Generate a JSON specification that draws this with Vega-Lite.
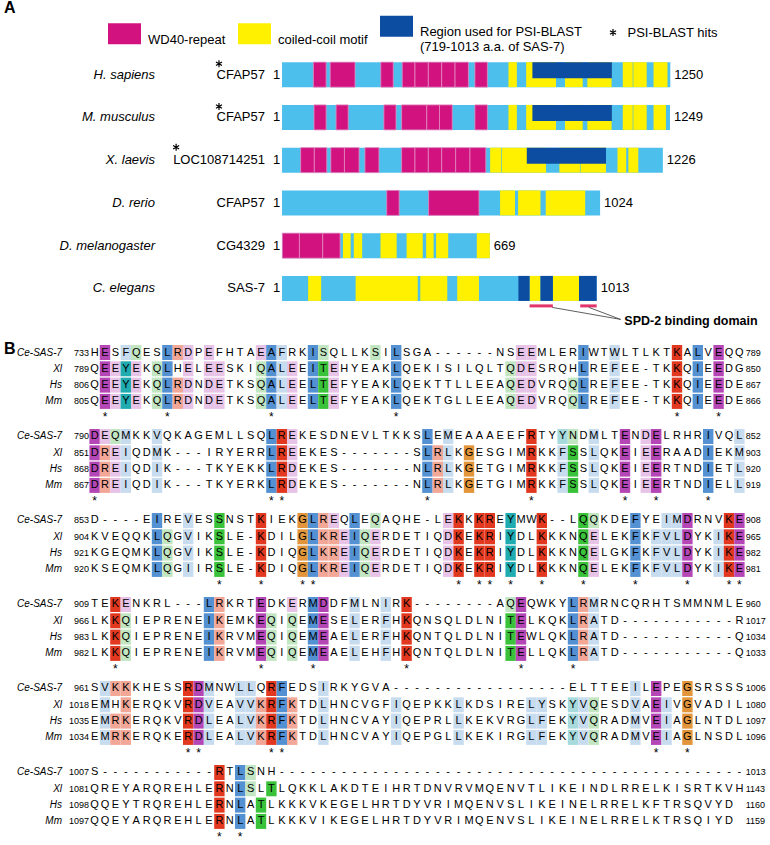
{
"$schema": "https://vega.github.io/schema/vega-lite/v6.json",
"padding": 0,
"background": "white",
"spacing": 7.5,
"bounds": "flush",
"resolve": {"scale": {"color": "independent", "shape": "independent"}, "legend": {"color": "independent", "shape": "independent"}},
"config": {"view": {"stroke": null}, "font": "Liberation Sans"},
"datasets": {
"prot": [
{"sp":"H. sapiens","gene":"CFAP57","len":1250,"star":"a","hit":"PSI-BLAST hits"},
{"sp":"M. musculus","gene":"CFAP57","len":1249,"star":"a","hit":"PSI-BLAST hits"},
{"sp":"X. laevis","gene":"LOC108714251","len":1226,"star":"b","hit":"PSI-BLAST hits"},
{"sp":"D. rerio","gene":"CFAP57","len":1024,"star":""},
{"sp":"D. melanogaster","gene":"CG4329","len":669,"star":""},
{"sp":"C. elegans","gene":"SAS-7","len":1013,"star":""}
],
"dom": [
{"sp":"H. sapiens","t":"WD40","s":101,"e":142},{"sp":"H. sapiens","t":"WD40","s":155,"e":235},{"sp":"H. sapiens","t":"WD40","s":318,"e":358},{"sp":"H. sapiens","t":"WD40","s":387,"e":428},{"sp":"H. sapiens","t":"WD40","s":428,"e":471},{"sp":"H. sapiens","t":"WD40","s":471,"e":514},{"sp":"H. sapiens","t":"WD40","s":514,"e":557},{"sp":"H. sapiens","t":"WD40","s":557,"e":600},{"sp":"H. sapiens","t":"WD40","s":621,"e":661},
{"sp":"H. sapiens","t":"coil","s":729,"e":756},{"sp":"H. sapiens","t":"coil","s":786,"e":882},{"sp":"H. sapiens","t":"coil","s":911,"e":968},{"sp":"H. sapiens","t":"coil","s":983,"e":1061},{"sp":"H. sapiens","t":"coil","s":1097,"e":1129},{"sp":"H. sapiens","t":"coil","s":1131,"e":1174},{"sp":"H. sapiens","t":"coil","s":1196,"e":1241},
{"sp":"H. sapiens","t":"psi","s":806,"e":1062,"part":"top"},
{"sp":"M. musculus","t":"WD40","s":103,"e":142},{"sp":"M. musculus","t":"WD40","s":174,"e":213},{"sp":"M. musculus","t":"WD40","s":328,"e":367},{"sp":"M. musculus","t":"WD40","s":385,"e":466},{"sp":"M. musculus","t":"WD40","s":466,"e":507},{"sp":"M. musculus","t":"WD40","s":507,"e":548},{"sp":"M. musculus","t":"WD40","s":621,"e":661},
{"sp":"M. musculus","t":"coil","s":729,"e":756},{"sp":"M. musculus","t":"coil","s":786,"e":882},{"sp":"M. musculus","t":"coil","s":911,"e":968},{"sp":"M. musculus","t":"coil","s":983,"e":1061},{"sp":"M. musculus","t":"coil","s":1097,"e":1129},{"sp":"M. musculus","t":"coil","s":1131,"e":1174},{"sp":"M. musculus","t":"coil","s":1196,"e":1236},
{"sp":"M. musculus","t":"psi","s":806,"e":1062,"part":"top"},
{"sp":"X. laevis","t":"WD40","s":60,"e":104},{"sp":"X. laevis","t":"WD40","s":104,"e":144},{"sp":"X. laevis","t":"WD40","s":157,"e":201},{"sp":"X. laevis","t":"WD40","s":201,"e":248},{"sp":"X. laevis","t":"WD40","s":267,"e":312},{"sp":"X. laevis","t":"WD40","s":385,"e":428},{"sp":"X. laevis","t":"WD40","s":428,"e":471},{"sp":"X. laevis","t":"WD40","s":471,"e":514},{"sp":"X. laevis","t":"WD40","s":514,"e":559},{"sp":"X. laevis","t":"WD40","s":559,"e":605},{"sp":"X. laevis","t":"WD40","s":605,"e":656},
{"sp":"X. laevis","t":"coil","s":670,"e":706},{"sp":"X. laevis","t":"coil","s":708,"e":850},{"sp":"X. laevis","t":"coil","s":893,"e":959},{"sp":"X. laevis","t":"coil","s":961,"e":1043},{"sp":"X. laevis","t":"coil","s":1080,"e":1108},{"sp":"X. laevis","t":"coil","s":1115,"e":1147},
{"sp":"X. laevis","t":"psi","s":788,"e":1043,"part":"top"},
{"sp":"D. rerio","t":"WD40","s":337,"e":377},{"sp":"D. rerio","t":"WD40","s":472,"e":634},
{"sp":"D. rerio","t":"coil","s":702,"e":750},{"sp":"D. rerio","t":"coil","s":760,"e":832},{"sp":"D. rerio","t":"coil","s":849,"e":976},
{"sp":"D. melanogaster","t":"WD40","s":1,"e":56},{"sp":"D. melanogaster","t":"WD40","s":56,"e":131},{"sp":"D. melanogaster","t":"WD40","s":131,"e":187},
{"sp":"D. melanogaster","t":"coil","s":196,"e":221},{"sp":"D. melanogaster","t":"coil","s":231,"e":258},{"sp":"D. melanogaster","t":"coil","s":317,"e":369},{"sp":"D. melanogaster","t":"coil","s":401,"e":453},{"sp":"D. melanogaster","t":"coil","s":464,"e":488},{"sp":"D. melanogaster","t":"coil","s":496,"e":535},{"sp":"D. melanogaster","t":"coil","s":627,"e":669},
{"sp":"C. elegans","t":"coil","s":84,"e":126},{"sp":"C. elegans","t":"coil","s":237,"e":437},{"sp":"C. elegans","t":"coil","s":445,"e":532},{"sp":"C. elegans","t":"coil","s":564,"e":634},{"sp":"C. elegans","t":"coil","s":797,"e":832},{"sp":"C. elegans","t":"coil","s":872,"e":956},
{"sp":"C. elegans","t":"psi","s":761,"e":797},{"sp":"C. elegans","t":"psi","s":832,"e":872},{"sp":"C. elegans","t":"psi","s":956,"e":1013}
],
"spd": [{"sp":"C. elegans","s":797,"e":872},{"sp":"C. elegans","s":960,"e":1013}],
"conn": [{"sp":"C. elegans","x0":870,"x1":1090},{"sp":"C. elegans","x0":988,"x1":1090}],
"spdlab": [{"sp":"C. elegans","lab":"SPD-2 binding domain"}],
"aln": [
{"b":1,"n":"Ce-SAS-7","st":733,"en":789,
"c":[1,2,3,4,5,6,7,8,9,10,11,12,13,14,15,16,17,18,19,20,21,22,23,24,25,26,27,28,29,30,31,32,33,34,35,36,37,38,39,40,41,42,43,44,45,46,47,48,49,50,51,52,53,54,55,56,57,58,59,60,61,62,63],
"s":["H","E","S","F","Q","E","S","L","R","D","P","E","F","H","T","A","E","A","F","R","K","I","S","Q","L","L","K","S","I","L","S","G","A","-","-","-","-","-","-","N","S","E","E","M","L","E","R","I","W","T","W","L","T","L","K","T","K","A","L","V","E","Q","Q"],
"h":[".","M",".","b","g",".",".","B","r","m",".","m",".",".",".",".","m","B","b",".",".","B","g",".",".",".",".","g",".","B",".",".",".",".",".",".",".",".",".",".",".","m","m",".",".",".",".","B",".",".","b",".",".",".",".",".","R",".","B",".","M",".","."]},
{"b":1,"n":"Xl","st":789,"en":850,
"c":[1,2,3,4,5,6,7,8,9,10,11,12,13,14,15,16,17,18,19,20,21,22,23,24,25,26,27,28,29,30,31,32,33,34,35,36,37,38,39,40,41,42,43,44,45,46,47,48,49,50,51,52,53,54,55,56,57,58,59,60,61,62,63],
"s":["Q","E","E","Y","E","K","Q","L","H","E","L","E","E","S","K","I","Q","A","L","E","E","I","T","E","H","Y","E","A","K","L","Q","E","K","I","S","I","L","Q","L","T","Q","D","E","S","R","Q","H","L","R","E","F","E","E","-","T","K","K","Q","I","E","E","D","G"],
"h":[".","M","m","T","m",".","g","B",".","m",".","m","m",".",".",".","g","B","b","m",".","B","G","m",".",".",".",".",".","B",".",".",".",".",".",".",".",".",".",".","g","m","m",".",".",".",".","B",".",".","b",".",".",".",".",".","R",".","B",".","M",".","."]},
{"b":1,"n":"Hs","st":806,"en":867,
"c":[1,2,3,4,5,6,7,8,9,10,11,12,13,14,15,16,17,18,19,20,21,22,23,24,25,26,27,28,29,30,31,32,33,34,35,36,37,38,39,40,41,42,43,44,45,46,47,48,49,50,51,52,53,54,55,56,57,58,59,60,61,62,63],
"s":["Q","E","E","Y","E","K","Q","L","R","D","N","D","E","T","K","S","Q","A","L","E","E","L","T","E","F","Y","E","A","K","L","Q","E","K","T","T","L","L","E","E","A","Q","E","D","V","R","Q","Q","L","R","E","F","E","E","-","T","K","K","Q","I","E","E","D","E"],
"h":[".","M","m","T","m",".","g","B","r","m",".","m","m",".",".",".","g","B","b","m",".","B","G","m",".",".",".",".",".","B",".",".",".",".",".",".",".",".",".",".","g","m","m",".",".",".","g","B",".",".","b",".",".",".",".",".","R",".","B",".","M",".","."]},
{"b":1,"n":"Mm","st":805,"en":866,
"c":[1,2,3,4,5,6,7,8,9,10,11,12,13,14,15,16,17,18,19,20,21,22,23,24,25,26,27,28,29,30,31,32,33,34,35,36,37,38,39,40,41,42,43,44,45,46,47,48,49,50,51,52,53,54,55,56,57,58,59,60,61,62,63],
"s":["Q","E","E","Y","E","K","Q","L","R","D","N","D","E","T","K","S","Q","A","L","E","E","L","T","E","F","Y","E","A","K","L","Q","E","K","T","G","L","L","E","E","A","Q","E","D","V","R","Q","Q","L","R","E","F","E","E","-","T","K","K","Q","I","E","E","D","E"],
"h":[".","M","m","T","m",".","g","B","r","m",".","m","m",".",".",".","g","B","b","m",".","B","G","m",".",".",".",".",".","B",".",".",".",".",".",".",".",".",".",".","g","m","m",".",".",".","g","B",".",".","b",".",".",".",".",".","R",".","B",".","M",".","."]},
{"b":1,"n":"*","sc":[2,8,18,30,57,61]},
{"b":2,"n":"Ce-SAS-7","st":790,"en":852,
"c":[1,2,3,4,5,6,7,8,9,10,11,12,13,14,15,16,17,18,19,20,21,22,23,24,25,26,27,28,29,30,31,32,33,34,35,36,37,38,39,40,41,42,43,44,45,46,47,48,49,50,51,52,53,54,55,56,57,58,59,60,61,62,63],
"s":["D","E","Q","M","K","K","V","Q","K","A","G","E","M","L","L","S","Q","L","R","E","K","E","S","D","N","E","V","L","T","K","K","S","L","E","M","E","A","A","A","E","E","F","R","T","Y","Y","N","D","M","L","T","E","N","D","E","L","R","H","R","I","V","Q","L"],
"h":["M","m","g","b",".",".","b",".",".",".",".",".",".",".",".",".",".","B","R","m",".",".",".",".",".",".",".",".",".",".",".",".","B",".","b",".",".",".",".",".",".",".","R",".",".","t","g",".","b",".",".","M",".","m","M",".",".",".",".","B",".",".","b"]},
{"b":2,"n":"Xl","st":851,"en":903,
"c":[1,2,3,4,5,6,7,8,9,10,11,12,13,14,15,16,17,18,19,20,21,22,23,24,25,26,27,28,29,30,31,32,33,34,35,36,37,38,39,40,41,42,43,44,45,46,47,48,49,50,51,52,53,54,55,56,57,58,59,60,61,62,63],
"s":["D","R","E","I","Q","D","M","K","-","-","-","I","R","Y","E","R","R","L","R","E","E","K","E","S","-","-","-","-","-","-","-","S","L","R","L","K","G","E","S","G","I","M","R","K","K","F","S","S","L","Q","K","E","I","E","E","R","A","A","D","I","E","K","M"],
"h":["M","r","m","b",".",".","b",".",".",".",".",".",".",".",".",".",".","B","R","m",".",".",".",".",".",".",".",".",".",".",".",".","B","r","b",".","O",".",".",".",".",".","R",".",".","b","G",".","b",".",".","M",".","m","M",".",".",".",".","B",".",".","b"]},
{"b":2,"n":"Hs","st":868,"en":920,
"c":[1,2,3,4,5,6,7,8,9,10,11,12,13,14,15,16,17,18,19,20,21,22,23,24,25,26,27,28,29,30,31,32,33,34,35,36,37,38,39,40,41,42,43,44,45,46,47,48,49,50,51,52,53,54,55,56,57,58,59,60,61,62,63],
"s":["D","R","E","I","Q","D","I","K","-","-","-","T","K","Y","E","K","K","L","R","D","E","K","E","S","-","-","-","-","-","-","-","N","L","R","L","K","G","E","T","G","I","M","R","K","K","F","S","S","L","Q","K","E","I","E","E","R","T","N","D","I","E","T","L"],
"h":["M","r","m","b",".",".","b",".",".",".",".",".",".",".",".",".",".","B","R","m",".",".",".",".",".",".",".",".",".",".",".",".","B","r","b",".","O",".",".",".",".",".","R",".",".","b","G",".","b",".",".","M",".","m","M",".",".",".",".","B",".",".","b"]},
{"b":2,"n":"Mm","st":867,"en":919,
"c":[1,2,3,4,5,6,7,8,9,10,11,12,13,14,15,16,17,18,19,20,21,22,23,24,25,26,27,28,29,30,31,32,33,34,35,36,37,38,39,40,41,42,43,44,45,46,47,48,49,50,51,52,53,54,55,56,57,58,59,60,61,62,63],
"s":["D","R","E","I","Q","D","I","K","-","-","-","T","K","Y","E","R","K","L","R","D","E","K","E","S","-","-","-","-","-","-","-","N","L","R","L","K","G","E","T","G","I","M","R","K","K","F","S","S","L","Q","K","E","I","E","E","R","T","N","D","I","E","L","L"],
"h":["M","r","m","b",".",".","b",".",".",".",".",".",".",".",".",".",".","B","R","m",".",".",".",".",".",".",".",".",".",".",".",".","B","r","b",".","O",".",".",".",".",".","R",".",".","b","G",".","b",".",".","M",".","m","M",".",".",".",".","B",".",".","b"]},
{"b":2,"n":"*","sc":[1,18,19,33,43,52,55,60]},
{"b":3,"n":"Ce-SAS-7","st":853,"en":908,
"c":[1,2,3,4,5,6,7,8,9,10,11,12,13,14,15,16,17,18,19,20,21,22,23,24,25,26,27,28,29,30,31,32,33,34,35,36,37,38,39,40,41,42,43,44,45,46,47,48,49,50,51,52,53,54,55,56,57,58,59,60,61,62,63],
"s":["D","-","-","-","-","E","I","R","E","V","E","S","S","N","S","T","K","I","E","K","G","L","R","E","Q","L","E","Q","A","Q","H","E","-","L","E","K","K","K","R","E","Y","M","W","K","-","-","L","Q","Q","K","D","E","F","Y","E","I","M","D","R","N","V","K","E"],
"h":[".",".",".",".",".",".","B",".",".","b",".",".","G",".",".",".","R",".",".",".","O","B","r","m",".","B",".","g",".",".",".",".",".",".","m","R",".","R","R",".","T",".",".","R",".",".",".","G","g",".",".",".","B",".",".","b","b","M",".",".",".","R","M"]},
{"b":3,"n":"Xl","st":904,"en":965,
"c":[1,2,3,4,5,6,7,8,9,10,11,12,13,14,15,16,17,18,19,20,21,22,23,24,25,26,27,28,29,30,31,32,33,34,35,36,37,38,39,40,41,42,43,44,45,46,47,48,49,50,51,52,53,54,55,56,57,58,59,60,61,62,63],
"s":["K","V","E","Q","Q","K","L","Q","G","V","I","K","S","L","E","-","K","D","I","L","G","L","K","R","E","I","Q","E","R","D","E","T","I","Q","D","K","E","K","R","I","Y","D","L","K","K","K","N","Q","E","L","E","K","F","K","F","V","L","D","Y","K","I","K","E"],
"h":[".",".",".",".",".",".","B","g",".","b",".",".","G",".",".",".","R",".",".",".","O","B","r","r","m","B","g","m",".",".",".",".",".",".","m","R",".","R","R",".","T",".",".","R",".",".",".","G","m",".",".",".","B",".","b","b","b","M",".",".","b","R","M"]},
{"b":3,"n":"Hs","st":921,"en":982,
"c":[1,2,3,4,5,6,7,8,9,10,11,12,13,14,15,16,17,18,19,20,21,22,23,24,25,26,27,28,29,30,31,32,33,34,35,36,37,38,39,40,41,42,43,44,45,46,47,48,49,50,51,52,53,54,55,56,57,58,59,60,61,62,63],
"s":["K","G","E","Q","M","K","L","Q","G","V","I","K","S","L","E","-","K","D","I","Q","G","L","K","R","E","I","Q","E","R","D","E","T","I","Q","D","K","E","K","R","I","Y","D","L","K","K","K","N","Q","E","L","G","K","F","K","F","V","L","D","Y","K","I","K","E"],
"h":[".",".",".",".",".",".","B","g",".","b",".",".","G",".",".",".","R",".",".",".","O","B","r","r","m","B","g","m",".",".",".",".",".",".","m","R",".","R","R",".","T",".",".","R",".",".",".","G","m",".",".",".","B",".","b","b","b","M",".",".","b","R","M"]},
{"b":3,"n":"Mm","st":920,"en":981,
"c":[1,2,3,4,5,6,7,8,9,10,11,12,13,14,15,16,17,18,19,20,21,22,23,24,25,26,27,28,29,30,31,32,33,34,35,36,37,38,39,40,41,42,43,44,45,46,47,48,49,50,51,52,53,54,55,56,57,58,59,60,61,62,63],
"s":["K","S","E","Q","M","K","L","Q","G","I","I","R","S","L","E","-","K","D","I","Q","G","L","K","R","E","I","Q","E","R","D","E","T","I","Q","D","K","E","K","R","I","Y","D","L","K","K","K","N","Q","E","L","E","K","F","K","F","V","L","D","Y","K","I","K","E"],
"h":[".",".",".",".",".",".","B","g",".","b",".",".","G",".",".",".","R",".",".",".","O","B","r","r","m","B","g","m",".",".",".",".",".",".","m","R",".","R","R",".","T",".",".","R",".",".",".","G","m",".",".",".","B",".","b","b","b","M",".",".","b","R","M"]},
{"b":3,"n":"*","sc":[13,17,21,22,36,38,39,41,44,48,53,58,62,63]},
{"b":4,"n":"Ce-SAS-7","st":909,"en":960,
"c":[1,2,3,4,5,6,7,8,9,10,11,12,13,14,15,16,17,18,19,20,21,22,23,24,25,26,27,28,29,30,31,32,33,34,35,36,37,38,39,40,41,42,43,44,45,46,47,48,49,50,51,52,53,54,55,56,57,58,59,60,61,62,63],
"s":["T","E","K","E","N","K","R","L","-","-","-","L","R","K","R","T","E","D","K","E","R","M","D","D","F","M","L","N","I","R","K","-","-","-","-","-","-","-","-","A","Q","E","Q","W","K","Y","L","R","M","R","N","C","Q","R","H","T","S","M","M","N","M","L","E"],
"h":[".",".","R","m",".",".",".",".",".",".",".","B","r",".",".",".","M",".",".","m",".","B","M",".",".","b",".",".","b",".","R",".",".",".",".",".",".",".",".",".","g","M",".",".",".",".","B","r","b",".",".",".",".",".",".",".",".",".",".",".",".",".","."]},
{"b":4,"n":"Xl","st":966,"en":1017,
"c":[1,2,3,4,5,6,7,8,9,10,11,12,13,14,15,16,17,18,19,20,21,22,23,24,25,26,27,28,29,30,31,32,33,34,35,36,37,38,39,40,41,42,43,44,45,46,47,48,49,50,51,52,53,54,55,56,57,58,59,60,61,62,63],
"s":["L","K","K","Q","I","E","P","R","E","N","E","I","K","E","M","K","E","Q","I","Q","E","M","E","S","E","L","E","R","F","H","K","Q","N","S","Q","L","D","L","N","I","T","E","L","K","Q","K","L","R","A","T","D","-","-","-","-","-","-","-","-","-","-","-","R"],
"h":[".",".","R","g",".",".",".",".",".",".",".","B","r",".",".",".","M","g",".","g",".","B","M",".",".","b",".",".","b",".","R",".",".",".",".",".",".",".",".",".","G","M",".",".",".",".","B","r","b",".",".",".",".",".",".",".",".",".",".",".",".",".","."]},
{"b":4,"n":"Hs","st":983,"en":1034,
"c":[1,2,3,4,5,6,7,8,9,10,11,12,13,14,15,16,17,18,19,20,21,22,23,24,25,26,27,28,29,30,31,32,33,34,35,36,37,38,39,40,41,42,43,44,45,46,47,48,49,50,51,52,53,54,55,56,57,58,59,60,61,62,63],
"s":["L","K","K","Q","I","E","P","R","E","N","E","I","K","R","V","M","E","Q","I","Q","E","M","E","A","E","L","E","R","F","H","K","Q","N","T","Q","L","D","L","N","I","T","E","W","L","Q","K","L","R","A","T","D","-","-","-","-","-","-","-","-","-","-","-","Q"],
"h":[".",".","R","g",".",".",".",".",".",".",".","B","r",".",".",".","M","g",".","g",".","B","M",".",".","b",".",".","b",".","R",".",".",".",".",".",".",".",".",".","G","M",".",".",".",".","B","r","b",".",".",".",".",".",".",".",".",".",".",".",".",".","."]},
{"b":4,"n":"Mm","st":982,"en":1033,
"c":[1,2,3,4,5,6,7,8,9,10,11,12,13,14,15,16,17,18,19,20,21,22,23,24,25,26,27,28,29,30,31,32,33,34,35,36,37,38,39,40,41,42,43,44,45,46,47,48,49,50,51,52,53,54,55,56,57,58,59,60,61,62,63],
"s":["L","K","K","Q","I","E","P","R","E","N","E","I","K","R","V","M","E","Q","I","Q","E","M","E","A","E","L","E","H","F","H","K","Q","N","T","Q","L","D","L","N","I","T","E","L","L","Q","K","L","R","A","T","D","-","-","-","-","-","-","-","-","-","-","-","Q"],
"h":[".",".","R","g",".",".",".",".",".",".",".","B","r",".",".",".","M","g",".","g",".","B","M",".",".","b",".",".","b",".","R",".",".",".",".",".",".",".",".",".","G","M",".",".",".",".","B","r","b",".",".",".",".",".",".",".",".",".",".",".",".",".","."]},
{"b":4,"n":"*","sc":[3,17,22,31,42,47]},
{"b":5,"n":"Ce-SAS-7","st":961,"en":1006,
"c":[1,2,3,4,5,6,7,8,9,10,11,12,13,14,15,16,17,18,19,20,21,22,23,24,25,26,27,28,29,30,31,32,33,34,35,36,37,38,39,40,41,42,43,44,45,46,47,48,49,50,51,52,53,54,55,56,57,58,59,60,61,62,63],
"s":["S","V","K","K","K","H","E","S","S","R","D","M","N","W","L","L","Q","R","F","E","D","S","I","R","K","Y","G","V","A","-","-","-","-","-","-","-","-","-","-","-","-","-","-","-","-","-","E","L","T","T","E","E","I","L","E","P","E","G","S","R","S","S","S"],
"h":[".","b","r","r",".",".",".",".",".","R","M","b",".",".","b","b",".","R","B",".",".",".","b",".",".",".",".",".",".",".",".",".",".",".",".",".",".",".",".",".",".",".",".",".",".",".",".",".",".",".",".",".","b",".","M",".",".","O",".",".",".",".","."]},
{"b":5,"n":"Xl","st":1018,"en":1080,
"c":[1,2,3,4,5,6,7,8,9,10,11,12,13,14,15,16,17,18,19,20,21,22,23,24,25,26,27,28,29,30,31,32,33,34,35,36,37,38,39,40,41,42,43,44,45,46,47,48,49,50,51,52,53,54,55,56,57,58,59,60,61,62,63],
"s":["E","M","H","K","E","R","Q","K","V","R","D","V","E","A","V","V","K","R","F","K","T","D","L","H","N","C","V","G","F","I","Q","E","P","K","K","L","K","D","S","I","R","E","L","Y","S","K","Y","V","Q","E","S","D","V","A","E","I","V","G","V","A","D","I","L"],
"h":[".","b",".","r",".",".",".",".",".","R","M","b",".",".","b","b","r","R","B","r",".",".","b",".",".",".",".",".",".","b",".",".",".",".",".","b",".",".",".",".",".",".","b","b",".",".","t","b","g",".",".",".","b",".","M","b",".","O",".",".",".",".","."]},
{"b":5,"n":"Hs","st":1035,"en":1097,
"c":[1,2,3,4,5,6,7,8,9,10,11,12,13,14,15,16,17,18,19,20,21,22,23,24,25,26,27,28,29,30,31,32,33,34,35,36,37,38,39,40,41,42,43,44,45,46,47,48,49,50,51,52,53,54,55,56,57,58,59,60,61,62,63],
"s":["E","M","R","K","E","R","Q","K","V","R","D","L","E","A","L","V","K","R","F","K","T","D","L","H","N","C","V","A","Y","I","Q","E","P","R","L","L","K","E","K","V","R","G","L","F","E","K","Y","V","Q","R","A","D","M","V","E","I","A","G","L","N","T","D","L"],
"h":[".","b","r","r",".",".",".",".",".","R","M","b",".",".","b","b","r","R","B","r",".",".","b",".",".",".",".",".",".","b",".",".",".",".",".","b",".",".",".",".",".",".","b","b",".",".","t","b","g",".",".",".","b",".","M","b",".","O",".",".",".",".","."]},
{"b":5,"n":"Mm","st":1034,"en":1096,
"c":[1,2,3,4,5,6,7,8,9,10,11,12,13,14,15,16,17,18,19,20,21,22,23,24,25,26,27,28,29,30,31,32,33,34,35,36,37,38,39,40,41,42,43,44,45,46,47,48,49,50,51,52,53,54,55,56,57,58,59,60,61,62,63],
"s":["E","M","R","K","E","R","Q","K","E","R","D","L","E","A","L","V","K","R","F","K","T","D","L","H","N","C","V","A","Y","I","Q","E","P","G","L","L","K","E","K","I","R","G","L","F","E","K","Y","V","Q","R","A","D","M","V","E","I","A","G","L","N","S","D","L"],
"h":[".","b","r","r",".",".",".",".",".","R","M","b",".",".","b","b","r","R","B","r",".",".","b",".",".",".",".",".",".","b",".",".",".",".",".","b",".",".",".",".",".",".","b","b",".",".","t","b","g",".",".",".","b",".","M","b",".","O",".",".",".",".","."]},
{"b":5,"n":"*","sc":[10,11,18,19,55,58]},
{"b":6,"n":"Ce-SAS-7","st":1007,"en":1013,
"c":[1,2,3,4,5,6,7,8,9,10,11,12,13,14,15,16,17,18,19,20,21,22,23,24,25,26,27,28,29,30,31,32,33,34,35,36,37,38,39,40,41,42,43,44,45,46,47,48,49,50,51,52,53,54,55,56,57,58,59,60,61,62,63],
"s":["S","-","-","-","-","-","-","-","-","-","-","-","R","T","L","S","N","H","-","-","-","-","-","-","-","-","-","-","-","-","-","-","-","-","-","-","-","-","-","-","-","-","-","-","-","-","-","-","-","-","-","-","-","-","-","-","-","-","-","-","-","-","-"],
"h":[".",".",".",".",".",".",".",".",".",".",".",".","R",".","B","g",".",".",".",".",".",".",".",".",".",".",".",".",".",".",".",".",".",".",".",".",".",".",".",".",".",".",".",".",".",".",".",".",".",".",".",".",".",".",".",".",".",".",".",".",".",".","."]},
{"b":6,"n":"Xl","st":1081,"en":1143,
"c":[1,2,3,4,5,6,7,8,9,10,11,12,13,14,15,16,17,18,19,20,21,22,23,24,25,26,27,28,29,30,31,32,33,34,35,36,37,38,39,40,41,42,43,44,45,46,47,48,49,50,51,52,53,54,55,56,57,58,59,60,61,62,63],
"s":["Q","R","E","Y","A","R","Q","R","E","H","L","E","R","N","L","S","L","T","L","Q","K","K","L","A","K","D","T","E","I","H","R","T","D","N","V","R","V","M","Q","E","N","V","T","L","I","K","E","I","N","D","L","R","R","E","L","K","I","S","R","T","K","V","H"],
"h":[".",".",".",".",".",".",".",".",".",".",".",".","R",".","B","g",".","G",".",".",".",".",".",".",".",".",".",".",".",".",".",".",".",".",".",".",".",".",".",".",".",".",".",".",".",".",".",".",".",".",".",".",".",".",".",".",".",".",".",".",".",".","."]},
{"b":6,"n":"Hs","st":1098,"en":1160,
"c":[1,2,3,4,5,6,7,8,9,10,11,12,13,14,15,16,17,18,19,20,21,22,23,24,25,26,27,28,29,30,31,32,33,34,35,36,37,38,39,40,41,42,43,44,45,46,47,48,49,50,51,52,53,54,55,56,57,58,59,60,61,62],
"s":["Q","Q","E","Y","T","R","Q","R","E","H","L","E","R","N","L","A","T","L","K","K","K","V","K","E","G","E","L","H","R","T","D","Y","V","R","I","M","Q","E","N","V","S","L","I","K","E","I","N","E","L","R","R","E","L","K","F","T","R","S","Q","V","Y","D"],
"h":[".",".",".",".",".",".",".",".",".",".",".",".","R",".","B",".","G",".",".",".",".",".",".",".",".",".",".",".",".",".",".",".",".",".",".",".",".",".",".",".",".",".",".",".",".",".",".",".",".",".",".",".",".",".",".",".",".",".",".",".",".","."]},
{"b":6,"n":"Mm","st":1097,"en":1159,
"c":[1,2,3,4,5,6,7,8,9,10,11,12,13,14,15,16,17,18,19,20,21,22,23,24,25,26,27,28,29,30,31,32,33,34,35,36,37,38,39,40,41,42,43,44,45,46,47,48,49,50,51,52,53,54,55,56,57,58,59,60,61,62],
"s":["Q","Q","E","Y","A","R","Q","R","E","H","L","E","R","N","L","A","T","L","K","K","K","V","I","K","E","G","E","L","H","R","T","D","Y","V","R","I","M","Q","E","N","V","S","L","I","K","E","I","N","E","L","R","R","E","L","K","T","R","S","Q","I","Y","D"],
"h":[".",".",".",".",".",".",".",".",".",".",".",".","R",".","B",".","G",".",".",".",".",".",".",".",".",".",".",".",".",".",".",".",".",".",".",".",".",".",".",".",".",".",".",".",".",".",".",".",".",".",".",".",".",".",".",".",".",".",".",".",".","."]},
{"b":6,"n":"*","sc":[13,15]}
]
},
"vconcat": [
{
"width": 770, "height": 342,
"title": {"text": "A", "anchor": "start", "fontSize": 16, "fontWeight": "bold", "offset": -13, "dx": 4, "font": "Liberation Sans", "color": "black"},
"layer": [
{"data": {"name": "prot"},
 "mark": {"type": "bar", "height": 25, "color": "#4cbfec"},
 "encoding": {
  "x": {"field": "len", "type": "quantitative", "scale": {"domain": [-908, 1571], "nice": false, "zero": false}, "axis": null},
  "x2": {"datum": 0},
  "y": {"field": "sp", "type": "nominal", "scale": {"domain": ["H. sapiens","M. musculus","X. laevis","D. rerio","D. melanogaster","C. elegans"], "paddingInner": 0, "paddingOuter": 1.275, "align": 0.588}, "axis": null}
 }},
{"data": {"name": "dom"},
 "transform": [{"filter": "datum.part !== 'top'"}],
 "mark": {"type": "bar", "height": 25, "strokeWidth": 0.8},
 "encoding": {
  "x": {"field": "s", "type": "quantitative", "scale": {"domain": [-908, 1571], "nice": false, "zero": false}, "axis": null},
  "x2": {"field": "e"},
  "y": {"field": "sp", "type": "nominal", "scale": {"domain": ["H. sapiens","M. musculus","X. laevis","D. rerio","D. melanogaster","C. elegans"], "paddingInner": 0, "paddingOuter": 1.275, "align": 0.588}, "axis": null},
  "stroke": {"condition": {"test": "datum.t === 'WD40'", "value": "#e68ac2"}, "value": "transparent"},
  "color": {"field": "t", "type": "nominal",
   "scale": {"domain": ["WD40", "coil", "psi"], "range": ["#d2137f", "#fff100", "#0c4da2"]},
   "legend": {"orient": "none", "legendX": 108, "legendY": 6.5, "direction": "horizontal", "title": null,
     "symbolType": "M-1,-0.636H1V0.636H-1Z", "symbolSize": 1089, "symbolStrokeWidth": 0, "symbolOpacity": 1,
     "labelFontSize": 13, "labelFont": "Liberation Sans", "labelColor": "black", "labelOffset": 7, "columnPadding": 12, "labelLimit": 400, "labelBaseline": "top",
     "labelExpr": "datum.value === 'WD40' ? 'WD40-repeat' : datum.value === 'coil' ? 'coiled-coil motif' : ['Region used for PSI-BLAST', '(719-1013 a.a. of SAS-7)']",
     "encode": {
       "labels": {"update": {"dy": {"value": -7.5}, "lineHeight": {"value": 15}}}
     }}}
 }},
{"data": {"name": "dom"},
 "transform": [{"filter": "datum.part === 'top'"}],
 "mark": {"type": "bar", "height": 16, "yOffset": -4.5},
 "encoding": {
  "x": {"field": "s", "type": "quantitative", "scale": {"domain": [-908, 1571], "nice": false, "zero": false}, "axis": null},
  "x2": {"field": "e"},
  "y": {"field": "sp", "type": "nominal", "scale": {"domain": ["H. sapiens","M. musculus","X. laevis","D. rerio","D. melanogaster","C. elegans"], "paddingInner": 0, "paddingOuter": 1.275, "align": 0.588}, "axis": null},
  "color": {"field": "t", "type": "nominal", "scale": {"domain": ["WD40", "coil", "psi"], "range": ["#d2137f", "#fff100", "#0c4da2"]}}
 }},
{"data": {"name": "spd"},
 "mark": {"type": "bar", "height": 3, "yOffset": 17.5, "color": "#e2336b"},
 "encoding": {
  "x": {"field": "s", "type": "quantitative", "scale": {"domain": [-908, 1571], "nice": false, "zero": false}, "axis": null},
  "x2": {"field": "e"},
  "y": {"field": "sp", "type": "nominal", "scale": {"domain": ["H. sapiens","M. musculus","X. laevis","D. rerio","D. melanogaster","C. elegans"], "paddingInner": 0, "paddingOuter": 1.275, "align": 0.588}, "axis": null}
 }},
{"data": {"name": "conn"},
 "mark": {"type": "rule", "color": "#4d4d4d", "strokeWidth": 0.9, "yOffset": 19, "y2Offset": 31},
 "encoding": {
  "x": {"field": "x0", "type": "quantitative", "scale": {"domain": [-908, 1571], "nice": false, "zero": false}, "axis": null},
  "x2": {"field": "x1"},
  "y": {"field": "sp", "type": "nominal", "scale": {"domain": ["H. sapiens","M. musculus","X. laevis","D. rerio","D. melanogaster","C. elegans"], "paddingInner": 0, "paddingOuter": 1.275, "align": 0.588}, "axis": null},
  "y2": {"field": "sp"}
 }},
{"data": {"name": "prot"},
 "mark": {"type": "text", "align": "right", "baseline": "middle", "fontStyle": "italic", "fontSize": 13, "font": "Liberation Sans", "color": "black"},
 "encoding": {
  "x": {"datum": -409, "type": "quantitative", "scale": {"domain": [-908, 1571], "nice": false, "zero": false}, "axis": null},
  "y": {"field": "sp", "type": "nominal", "scale": {"domain": ["H. sapiens","M. musculus","X. laevis","D. rerio","D. melanogaster","C. elegans"], "paddingInner": 0, "paddingOuter": 1.275, "align": 0.588}, "axis": null},
  "text": {"field": "sp"}
 }},
{"data": {"name": "prot"},
 "mark": {"type": "text", "align": "right", "baseline": "middle", "fontSize": 13, "font": "Liberation Sans", "color": "black"},
 "encoding": {
  "x": {"datum": -55, "type": "quantitative", "scale": {"domain": [-908, 1571], "nice": false, "zero": false}, "axis": null},
  "y": {"field": "sp", "type": "nominal", "scale": {"domain": ["H. sapiens","M. musculus","X. laevis","D. rerio","D. melanogaster","C. elegans"], "paddingInner": 0, "paddingOuter": 1.275, "align": 0.588}, "axis": null},
  "text": {"field": "gene"}
 }},
{"data": {"name": "prot"},
 "mark": {"type": "text", "align": "right", "baseline": "middle", "fontSize": 13, "font": "Liberation Sans", "color": "black"},
 "encoding": {
  "x": {"datum": -6, "type": "quantitative", "scale": {"domain": [-908, 1571], "nice": false, "zero": false}, "axis": null},
  "y": {"field": "sp", "type": "nominal", "scale": {"domain": ["H. sapiens","M. musculus","X. laevis","D. rerio","D. melanogaster","C. elegans"], "paddingInner": 0, "paddingOuter": 1.275, "align": 0.588}, "axis": null},
  "text": {"value": "1"}
 }},
{"data": {"name": "prot"},
 "mark": {"type": "text", "align": "left", "baseline": "middle", "fontSize": 13, "dx": 4, "font": "Liberation Sans", "color": "black"},
 "encoding": {
  "x": {"field": "len", "type": "quantitative", "scale": {"domain": [-908, 1571], "nice": false, "zero": false}, "axis": null},
  "y": {"field": "sp", "type": "nominal", "scale": {"domain": ["H. sapiens","M. musculus","X. laevis","D. rerio","D. melanogaster","C. elegans"], "paddingInner": 0, "paddingOuter": 1.275, "align": 0.588}, "axis": null},
  "text": {"field": "len"}
 }},
{"data": {"name": "prot"},
 "transform": [{"filter": "datum.star === 'a'"}],
 "mark": {"type": "point", "filled": false, "color": "black", "strokeWidth": 1.2, "size": 49, "opacity": 1, "yOffset": -11},
 "encoding": {
  "x": {"datum": -203, "type": "quantitative", "scale": {"domain": [-908, 1571], "nice": false, "zero": false}, "axis": null},
  "y": {"field": "sp", "type": "nominal", "scale": {"domain": ["H. sapiens","M. musculus","X. laevis","D. rerio","D. melanogaster","C. elegans"], "paddingInner": 0, "paddingOuter": 1.275, "align": 0.588}, "axis": null},
  "shape": {"field": "hit", "type": "nominal",
    "scale": {"domain": ["PSI-BLAST hits"], "range": ["M0,-1V1M-0.866,-0.5L0.866,0.5M-0.866,0.5L0.866,-0.5"]},
    "legend": {"orient": "none", "legendX": 606.5, "legendY": 23, "title": null, "symbolSize": 49, "symbolStrokeColor": "black", "symbolStrokeWidth": 1.2, "symbolFillColor": "transparent",
      "labelFontSize": 13, "labelFont": "Liberation Sans", "labelColor": "black", "labelOffset": 8, "labelLimit": 300}}
 }},
{"data": {"name": "prot"},
 "transform": [{"filter": "datum.star === 'b'"}],
 "mark": {"type": "point", "filled": false, "color": "black", "strokeWidth": 1.2, "size": 49, "opacity": 1, "yOffset": -13},
 "encoding": {
  "x": {"datum": -341, "type": "quantitative", "scale": {"domain": [-908, 1571], "nice": false, "zero": false}, "axis": null},
  "y": {"field": "sp", "type": "nominal", "scale": {"domain": ["H. sapiens","M. musculus","X. laevis","D. rerio","D. melanogaster","C. elegans"], "paddingInner": 0, "paddingOuter": 1.275, "align": 0.588}, "axis": null},
  "shape": {"field": "hit", "type": "nominal", "scale": {"domain": ["PSI-BLAST hits"], "range": ["M0,-1V1M-0.866,-0.5L0.866,0.5M-0.866,0.5L0.866,-0.5"]}}
 }},
{"data": {"name": "spdlab"},
 "mark": {"type": "text", "align": "left", "baseline": "middle", "fontSize": 12.5, "fontWeight": "bold", "dy": 33, "font": "Liberation Sans", "color": "black"},
 "encoding": {
  "x": {"datum": 1102, "type": "quantitative", "scale": {"domain": [-908, 1571], "nice": false, "zero": false}, "axis": null},
  "y": {"field": "sp", "type": "nominal", "scale": {"domain": ["H. sapiens","M. musculus","X. laevis","D. rerio","D. melanogaster","C. elegans"], "paddingInner": 0, "paddingOuter": 1.275, "align": 0.588}, "axis": null},
  "text": {"field": "lab"}
 }}
]
},
{
"title": {"text": "B", "anchor": "start", "fontSize": 16, "fontWeight": "bold", "offset": -12, "dx": 4, "font": "Liberation Sans", "color": "black"},
"width": 770, "height": 495,
"data": {"name": "aln"},
"layer": [
  {"transform": [{"filter": "datum.n !== '*'"}, {"flatten": ["s", "h", "c"]}, {"filter": "datum.h !== '.' && datum.h != null"}],
   "mark": {"type": "point", "shape": "M-0.693,-1H0.693V1H-0.693Z", "size": 225, "filled": true, "opacity": 1, "strokeWidth": 0},
   "encoding": {
    "x": {"field": "c", "type": "quantitative", "scale": {"domain": [-8.096, 65.942], "nice": false, "zero": false}, "axis": null},
    "y": {"field": "b", "type": "ordinal", "scale": {"domain": [1,2,3,4,5,6], "paddingInner": 0.10714, "paddingOuter": 0}, "axis": null},
    "yOffset": {"field": "n", "type": "nominal", "scale": {"domain": ["Ce-SAS-7", "Xl", "Hs", "Mm", "*"], "paddingInner": 0, "paddingOuter": 0.3, "align": 0}},
    "color": {"field": "h", "type": "nominal", "legend": null,
      "scale": {"domain": ["M", "m", "R", "r", "B", "b", "G", "g", "O", "T", "t"],
                "range": ["#b446b6", "#e8c3e8", "#e2381f", "#f2a797", "#5391d2", "#c8dcf0", "#3ac23a", "#c2e6c2", "#e2953a", "#1fabb0", "#a6dadd"]}}
   }},
  {"transform": [{"filter": "datum.n !== '*'"}, {"flatten": ["s", "h", "c"]}, {"filter": "datum.s != null"}],
   "mark": {"type": "text", "baseline": "middle", "align": "center", "fontSize": 11, "font": "Liberation Sans", "color": "black"},
   "encoding": {
    "x": {"field": "c", "type": "quantitative", "scale": {"domain": [-8.096, 65.942], "nice": false, "zero": false}, "axis": null},
    "y": {"field": "b", "type": "ordinal", "scale": {"domain": [1,2,3,4,5,6], "paddingInner": 0.10714, "paddingOuter": 0}, "axis": null},
    "yOffset": {"field": "n", "type": "nominal", "scale": {"domain": ["Ce-SAS-7", "Xl", "Hs", "Mm", "*"], "paddingInner": 0, "paddingOuter": 0.3, "align": 0}},
    "text": {"field": "s"}
   }},
  {"transform": [{"filter": "datum.n === '*'"}, {"flatten": ["sc"]}],
   "mark": {"type": "text", "baseline": "middle", "align": "center", "fontSize": 12, "dy": -1, "font": "Liberation Sans", "color": "black"},
   "encoding": {
    "x": {"field": "sc", "type": "quantitative", "scale": {"domain": [-8.096, 65.942], "nice": false, "zero": false}, "axis": null},
    "y": {"field": "b", "type": "ordinal", "scale": {"domain": [1,2,3,4,5,6], "paddingInner": 0.10714, "paddingOuter": 0}, "axis": null},
    "yOffset": {"field": "n", "type": "nominal", "scale": {"domain": ["Ce-SAS-7", "Xl", "Hs", "Mm", "*"], "paddingInner": 0, "paddingOuter": 0.3, "align": 0}},
    "text": {"value": "*"}
   }},
  {"transform": [{"filter": "datum.n !== '*'"}],
   "mark": {"type": "text", "baseline": "middle", "align": "right", "fontSize": 10, "fontStyle": "italic", "font": "Liberation Sans", "color": "black"},
   "encoding": {
    "x": {"datum": -2.13, "type": "quantitative", "scale": {"domain": [-8.096, 65.942], "nice": false, "zero": false}, "axis": null},
    "y": {"field": "b", "type": "ordinal", "scale": {"domain": [1,2,3,4,5,6], "paddingInner": 0.10714, "paddingOuter": 0}, "axis": null},
    "yOffset": {"field": "n", "type": "nominal", "scale": {"domain": ["Ce-SAS-7", "Xl", "Hs", "Mm", "*"], "paddingInner": 0, "paddingOuter": 0.3, "align": 0}},
    "text": {"field": "n"}
   }},
  {"transform": [{"filter": "datum.n !== '*'"}],
   "mark": {"type": "text", "baseline": "middle", "align": "right", "fontSize": 9, "font": "Liberation Sans", "color": "black"},
   "encoding": {
    "x": {"datum": 0.46, "type": "quantitative", "scale": {"domain": [-8.096, 65.942], "nice": false, "zero": false}, "axis": null},
    "y": {"field": "b", "type": "ordinal", "scale": {"domain": [1,2,3,4,5,6], "paddingInner": 0.10714, "paddingOuter": 0}, "axis": null},
    "yOffset": {"field": "n", "type": "nominal", "scale": {"domain": ["Ce-SAS-7", "Xl", "Hs", "Mm", "*"], "paddingInner": 0, "paddingOuter": 0.3, "align": 0}},
    "text": {"field": "st"}
   }},
  {"transform": [{"filter": "datum.n !== '*'"}],
   "mark": {"type": "text", "baseline": "middle", "align": "left", "fontSize": 9, "font": "Liberation Sans", "color": "black"},
   "encoding": {
    "x": {"datum": 63.6, "type": "quantitative", "scale": {"domain": [-8.096, 65.942], "nice": false, "zero": false}, "axis": null},
    "y": {"field": "b", "type": "ordinal", "scale": {"domain": [1,2,3,4,5,6], "paddingInner": 0.10714, "paddingOuter": 0}, "axis": null},
    "yOffset": {"field": "n", "type": "nominal", "scale": {"domain": ["Ce-SAS-7", "Xl", "Hs", "Mm", "*"], "paddingInner": 0, "paddingOuter": 0.3, "align": 0}},
    "text": {"field": "en"}
   }}
]
}
]
}
